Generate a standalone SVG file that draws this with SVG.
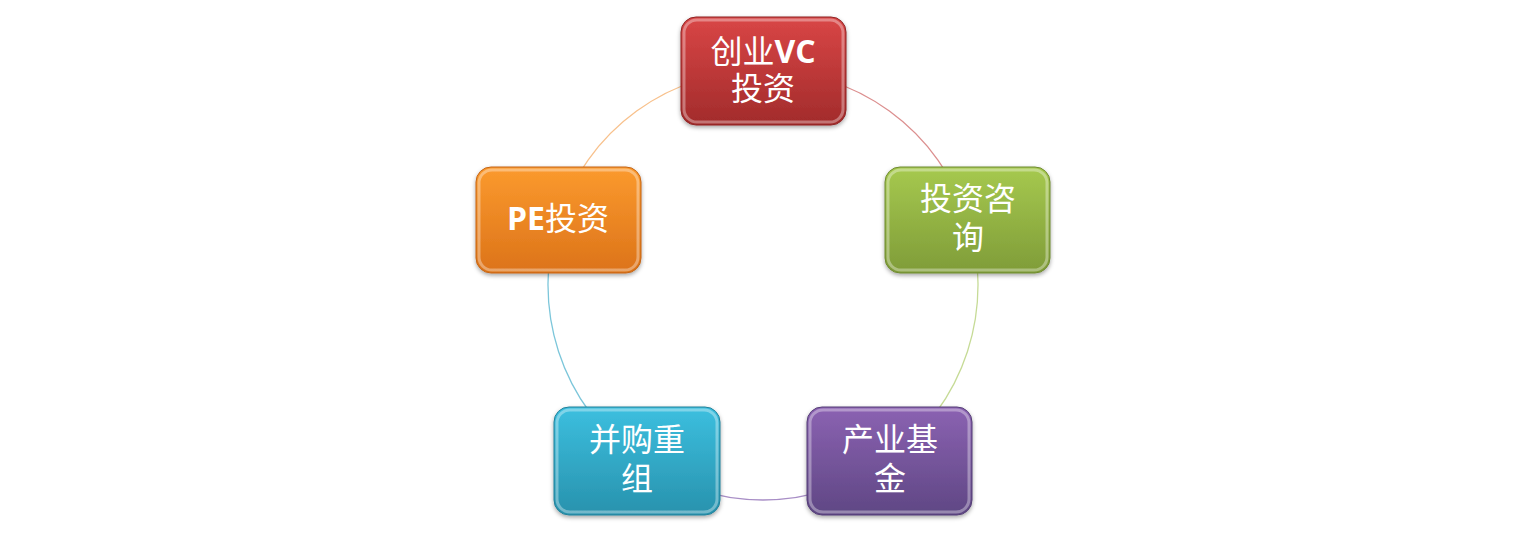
<svg xmlns="http://www.w3.org/2000/svg" width="1527" height="537" viewBox="0 0 1527 537">
<defs>
<linearGradient id="gRed" x1="0" y1="0" x2="0" y2="1"><stop offset="0" stop-color="#d94646"/><stop offset="1" stop-color="#a22b2b"/></linearGradient>
<linearGradient id="gOrange" x1="0" y1="0" x2="0" y2="1"><stop offset="0" stop-color="#fb9a2e"/><stop offset="1" stop-color="#dc7319"/></linearGradient>
<linearGradient id="gGreen" x1="0" y1="0" x2="0" y2="1"><stop offset="0" stop-color="#a6c94f"/><stop offset="1" stop-color="#7f9c38"/></linearGradient>
<linearGradient id="gBlue" x1="0" y1="0" x2="0" y2="1"><stop offset="0" stop-color="#3cbfdf"/><stop offset="1" stop-color="#2892ad"/></linearGradient>
<linearGradient id="gPurple" x1="0" y1="0" x2="0" y2="1"><stop offset="0" stop-color="#8b62b2"/><stop offset="1" stop-color="#5f4784"/></linearGradient>
<filter id="sh" x="-10%" y="-10%" width="120%" height="130%"><feDropShadow dx="0" dy="2" stdDeviation="2" flood-color="#000" flood-opacity="0.35"/></filter>
</defs>
<style>
.box{filter:url(#sh);stroke-width:1}
.hl{fill:none;stroke:#ffffff;stroke-opacity:0.35;stroke-width:3}
.t{font-family:"Noto Sans CJK SC","Noto Sans",sans-serif;font-size:32px;fill:#ffffff;text-anchor:middle}
.b{font-family:"Open Sans","Liberation Sans",sans-serif;font-weight:bold}
.arc{fill:none;stroke-width:1.3}
</style>
<rect width="1527" height="537" fill="#ffffff"/>
<g id="connectors">
<path class="arc" stroke="#dc8f8f" d="M 763 70 A 215 215 0 0 1 967.48 218.56"/>
<path class="arc" stroke="#c6db96" d="M 967.48 218.56 A 215 215 0 0 1 889.37 458.94"/>
<path class="arc" stroke="#a88ec6" d="M 889.37 458.94 A 215 215 0 0 1 636.63 458.94"/>
<path class="arc" stroke="#7cc6da" d="M 636.63 458.94 A 215 215 0 0 1 558.52 218.56"/>
<path class="arc" stroke="#f8c18c" d="M 558.52 218.56 A 215 215 0 0 1 763 70"/>
</g>
<g id="node-vc">
<rect class="box" x="681" y="17" width="165" height="108" rx="15" fill="url(#gRed)" stroke="#8f2525"/>
<rect class="hl" x="684" y="20" width="159" height="102" rx="13"/>
<text class="t" x="763" y="63">创业<tspan class="b">VC</tspan><tspan x="763" dy="37">投资</tspan></text>
</g>
<g id="node-consult">
<rect class="box" x="885" y="167" width="165" height="106" rx="15" fill="url(#gGreen)" stroke="#6f8a30"/>
<rect class="hl" x="888" y="170" width="159" height="100" rx="13"/>
<text class="t" x="968" y="210">投资咨<tspan x="968" dy="39">询</tspan></text>
</g>
<g id="node-fund">
<rect class="box" x="807" y="407" width="165" height="108" rx="15" fill="url(#gPurple)" stroke="#553f76"/>
<rect class="hl" x="810" y="410" width="159" height="102" rx="13"/>
<text class="t" x="890" y="451">产业基<tspan x="890" dy="39">金</tspan></text>
</g>
<g id="node-ma">
<rect class="box" x="554" y="407" width="166" height="108" rx="15" fill="url(#gBlue)" stroke="#23819a"/>
<rect class="hl" x="557" y="410" width="160" height="102" rx="13"/>
<text class="t" x="637" y="451">并购重<tspan x="637" dy="39">组</tspan></text>
</g>
<g id="node-pe">
<rect class="box" x="476" y="167" width="165" height="106" rx="15" fill="url(#gOrange)" stroke="#c46515"/>
<rect class="hl" x="479" y="170" width="159" height="100" rx="13"/>
<text class="t" x="558" y="230"><tspan class="b">PE</tspan>投资</text>
</g>
</svg>
